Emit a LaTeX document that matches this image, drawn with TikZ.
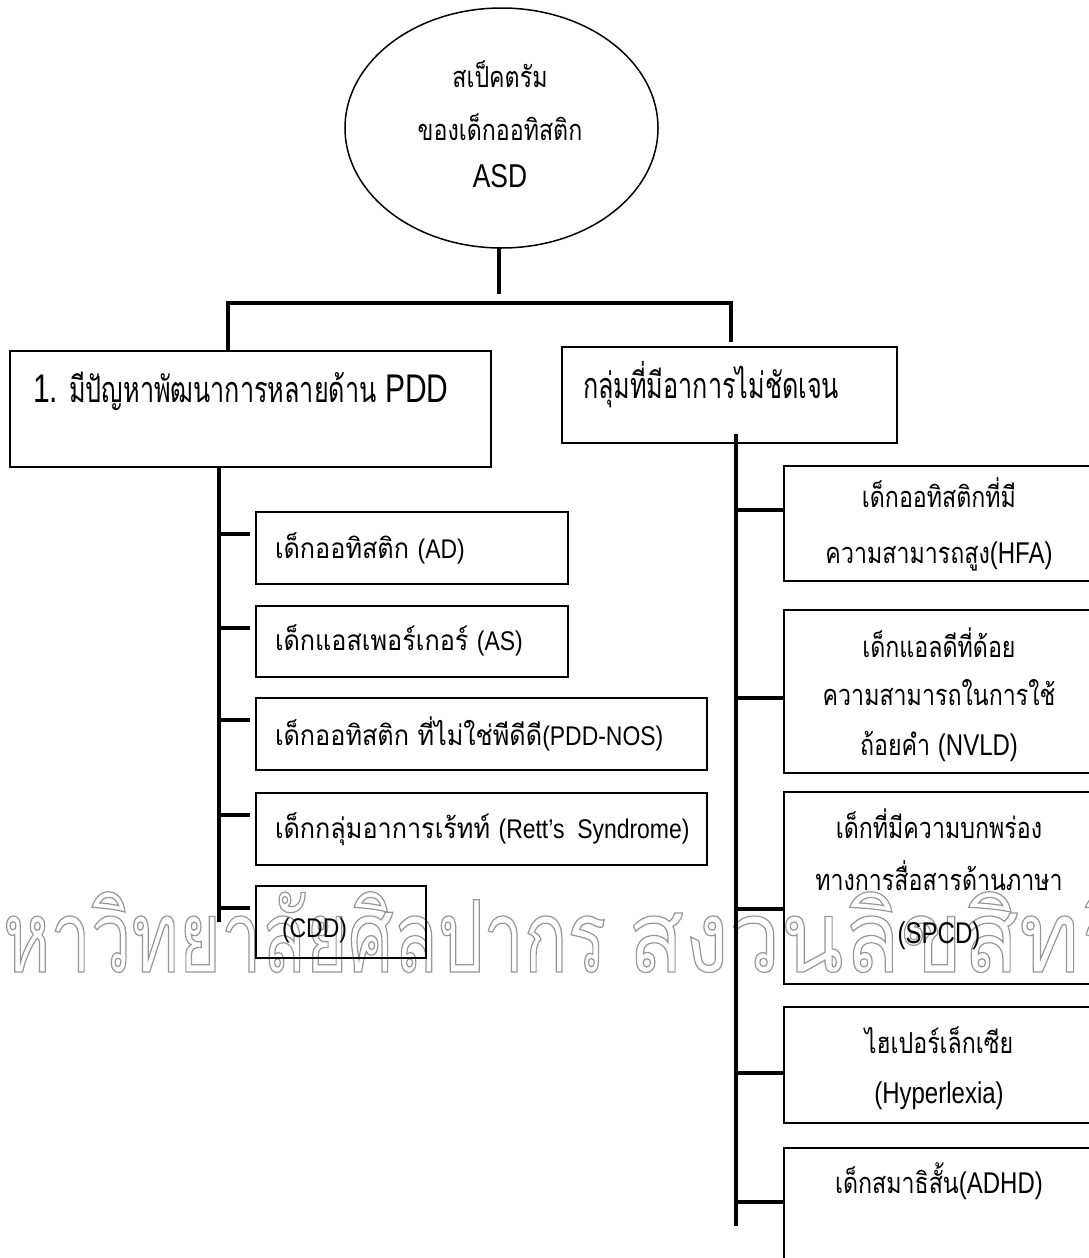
\documentclass[tikz,border=0pt]{standalone}
\usetikzlibrary{shapes.geometric}
\usepackage{fontspec}
\setmainfont{Loma}[Script=Thai]
\newfontfamily\thA{Loma}[Script=Thai,FakeStretch=0.7]
\newfontfamily\thB{Loma}[Script=Thai,FakeStretch=0.8]
\newfontfamily\thC{Loma}[Script=Thai,FakeStretch=0.9]
\newfontfamily\thW{Loma}[Script=Thai,FakeStretch=0.72]
\newfontfamily\thWW{Loma}[Script=Thai,FakeStretch=0.92]
\newfontfamily\laA{Liberation Sans}[FakeStretch=0.75]
\newfontfamily\laB{Liberation Sans}[FakeStretch=0.8]
\newfontfamily\laC{Liberation Sans}[FakeStretch=0.85]
\newcommand\latfmt{}
\newcommand\lat[1]{{\latfmt #1}}
\newcommand\fbig{\thA\fontsize{36}{40}\selectfont\renewcommand\latfmt{\laA\fontsize{40}{40}\selectfont}}
\newcommand\fmid{\thB\fontsize{29}{36}\selectfont\renewcommand\latfmt{\laB\fontsize{30}{36}\selectfont}}
\newcommand\fsmall{\thC\fontsize{28}{32}\selectfont\renewcommand\latfmt{\laC\fontsize{27}{32}\selectfont}}
\newcommand\outl[1]{\special{pdf:literal direct 1 Tr 1.2 w}#1\special{pdf:literal direct 0 Tr}}
\definecolor{wmgray}{RGB}{150,150,150}
\tikzset{
  box/.style={draw, line width=1.6pt, inner sep=0pt, outer sep=0pt, rectangle},
  conn/.style={line width=4pt, line join=miter},
  txt/.style={inner sep=0pt, outer sep=0pt, anchor=base},
  txtl/.style={inner sep=0pt, outer sep=0pt, anchor=base west},
  wm/.style={inner sep=0pt, outer sep=0pt, text=wmgray}
}
\begin{document}
\begin{tikzpicture}[x=1pt,y=-1pt]
\useasboundingbox (0,0) rectangle (1088,1258);
% watermark
\begin{scope}
\node[wm, anchor=base east, font=\thW\fontsize{100}{100}\selectfont] (wmA) at (606,972) {\outl{มหาวิทยาลัยศิลปากร}};
\node[wm, anchor=base west, font=\thWW\fontsize{100}{100}\selectfont] (wmB) at (628,972) {\outl{สงวนลิขสิทธิ์}};
\end{scope}
% root ellipse
\node[draw, ellipse, line width=1.5pt, minimum width=313pt, minimum height=240pt, inner sep=0pt, outer sep=0pt] (root) at (501.5,128) {};
\node[txt, font=\fmid] (r1) at (500,87) {สเป็คตรัม};
\node[txt, font=\fmid] (r2) at (500,140) {ของเด็กออทิสติก};
\node[txt, font=\laB\fontsize{33}{36}\selectfont] (r3) at (500,187) {ASD};
% level 1 boxes
\node[box, minimum width=481pt, minimum height=116pt] (b1) at (250.5,409) {};
\node[box, minimum width=335pt, minimum height=96pt] (b2) at (729.5,395) {};
\node[txtl, font=\fbig] (t1) at (33,402) {\lat{1.} มีปัญหาพัฒนาการหลายด้าน \lat{PDD}};
\node[txtl, font=\fbig] (t2) at (583,398) {กลุ่มที่มีอาการไม่ชัดเจน};
% connectors top
\coordinate (hm) at (499,294);
\coordinate (hl) at (228,303);
\coordinate (hr) at (731,303);
\draw[conn] (hm |- root.south) -- (hm);
\draw[conn] (hl |- b1.north) -- (hl) -- (hr) -- ([yshift=5pt]hr |- b2.north);
% left boxes
\node[box, minimum width=312pt, minimum height=72pt] (ad) at (412,548) {};
\node[box, minimum width=312pt, minimum height=71pt] (as) at (412,641.5) {};
\node[box, minimum width=451pt, minimum height=72pt] (nos) at (481.5,734) {};
\node[box, minimum width=451pt, minimum height=72pt] (rett) at (481.5,829) {};
\node[box, minimum width=170pt, minimum height=72pt] (cdd) at (341,922) {};
\node[txtl, font=\fsmall] (tad) at (275,558) {เด็กออทิสติก \lat{(AD)}};
\node[txtl, font=\fsmall] (tas) at (275,650) {เด็กแอสเพอร์เกอร์ \lat{(AS)}};
\node[txtl, font=\fsmall] (tnos) at (275,745) {เด็กออทิสติก ที่ไม่ใช่พีดีดี\lat{(PDD-NOS)}};
\node[txtl, font=\fsmall] (trett) at (275,838) {เด็กกลุ่มอาการเร้ทท์ \lat{(Rett’s\ \ Syndrome)}};
\node[txtl, font=\fsmall] (tcdd) at (282,937) {\lat{(CDD)}};
% left spine
\coordinate (ls) at (219,0);
\coordinate (lsend) at (219,922);
\draw[conn] (ls |- b1.south) -- (lsend);
\foreach \b in {ad,as,nos,rett,cdd}{
  \draw[conn] ([shift={(-6pt,-22pt)}]\b.north west) -- ++(-33,0);
}
% right boxes
\node[box, minimum width=310pt, minimum height=115pt] (hfa) at (939,523.5) {};
\node[box, minimum width=310pt, minimum height=163pt] (nvld) at (939,691.5) {};
\node[box, minimum width=310pt, minimum height=192pt] (spcd) at (939,888) {};
\node[box, minimum width=310pt, minimum height=116pt] (hyp) at (939,1065) {};
\node[box, minimum width=310pt, minimum height=142pt] (adhd) at (939,1219) {};
\node[txt, font=\fmid] (th1) at (939,507) {เด็กออทิสติกที่มี};
\node[txt, font=\fmid] (th2) at (939,563) {ความสามารถสูง\lat{(HFA)}};
\node[txt, font=\fmid] (tn1) at (939,657) {เด็กแอลดีที่ด้อย};
\node[txt, font=\fmid] (tn2) at (939,705) {ความสามารถในการใช้};
\node[txt, font=\fmid] (tn3) at (939,755) {ถ้อยคำ \lat{(NVLD)}};
\node[txt, font=\fmid] (ts1) at (939,838) {เด็กที่มีความบกพร่อง};
\node[txt, font=\fmid] (ts2) at (939,890) {ทางการสื่อสารด้านภาษา};
\node[txt, font=\fmid] (ts3) at (939,943) {\lat{(SPCD)}};
\node[txt, font=\fmid] (ty1) at (939,1053) {ไฮเปอร์เล็กเซีย};
\node[txt, font=\fmid] (ty2) at (939,1103) {\lat{(Hyperlexia)}};
\node[txt, font=\fmid] (tx1) at (939,1193) {เด็กสมาธิสั้น\lat{(ADHD)}};
% right spine
\coordinate (rs) at (736,0);
\coordinate (rsend) at (736,1226);
\draw[conn] ([yshift=9pt]rs |- b2.south) -- (rsend);
\draw[conn] ([yshift=-44pt]hfa.north west) -- ++(-50,0);
\draw[conn] ([yshift=-88pt]nvld.north west) -- ++(-50,0);
\draw[conn] ([yshift=-117pt]spcd.north west) -- ++(-50,0);
\draw[conn] ([yshift=-66pt]hyp.north west) -- ++(-50,0);
\draw[conn] ([yshift=-54pt]adhd.north west) -- ++(-50,0);
\end{tikzpicture}
\end{document}
